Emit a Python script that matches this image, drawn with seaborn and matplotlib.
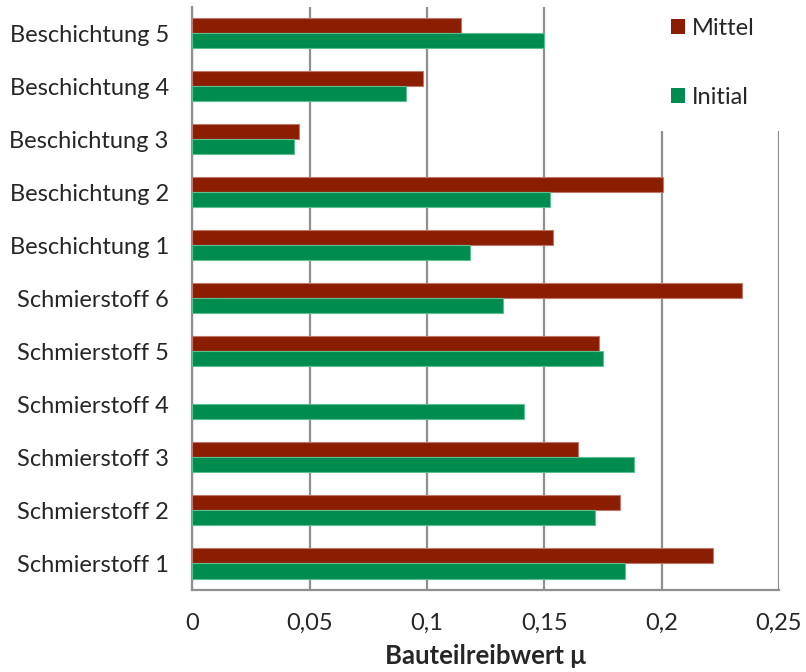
import numpy as np
import pandas as pd
import matplotlib
matplotlib.use("Agg")
import matplotlib.pyplot as plt
from matplotlib.patches import Rectangle
import seaborn as sns

# Reibwerte je Variante (oben nach unten)
categories = [
    "Beschichtung 5", "Beschichtung 4", "Beschichtung 3", "Beschichtung 2",
    "Beschichtung 1", "Schmierstoff 6", "Schmierstoff 5", "Schmierstoff 4",
    "Schmierstoff 3", "Schmierstoff 2", "Schmierstoff 1",
]
mittel = [0.1144, 0.0982, 0.0453, 0.2007, 0.1537, 0.2343, 0.1732, np.nan,
          0.1644, 0.1823, 0.2220]
initial = [0.150, 0.0911, 0.0432, 0.1526, 0.1182, 0.1326, 0.175, 0.1415,
           0.1882, 0.1716, 0.1843]
series = ["Mittel", "Initial"]
x_ticks = [0, 0.05, 0.1, 0.15, 0.2, 0.25]
x_tick_labels = ["0", "0,05", "0,1", "0,15", "0,2", "0,25"]
x_label = "Bauteilreibwert μ"

colors = {"Mittel": "#8b1e00", "Initial": "#008b4f"}
edges = {"Mittel": "#c0786a", "Initial": "#5cbf92"}

df = pd.DataFrame({
    "Variante": categories * 2,
    "Reihe": ["Mittel"] * len(categories) + ["Initial"] * len(categories),
    "Wert": mittel + initial,
})

sns.set_style("white")
plt.rcParams["font.family"] = ["Lato", "DejaVu Sans"]
fs = 17

fig = plt.figure(figsize=(8.06, 6.72), dpi=100)
ax = fig.add_axes([0.2387, 0.122, 0.7277, 0.8683])

sns.barplot(data=df, y="Variante", x="Wert", hue="Reihe", order=categories,
            hue_order=series, palette=colors, orient="h", width=0.566,
            gap=0, errorbar=None, ax=ax, zorder=3, saturation=1)

for cont, name in zip(ax.containers, series):
    for bar in cont:
        bar.set_edgecolor(edges[name])
        bar.set_linewidth(0.8)

grid_c = "#8f8f8f"
ax.set_xlim(0, 0.25)
ax.set_xticks(x_ticks)
ax.set_xticklabels(x_tick_labels, fontsize=fs)
ax.xaxis.grid(True, color=grid_c, linewidth=1.6, zorder=0)
ax.set_axisbelow(True)

ax.set_ylabel("")
ax.set_xlabel(x_label, fontsize=18.5, fontweight="bold", labelpad=7)
ax.tick_params(axis="y", which="major", length=0, pad=17, labelsize=fs)
ax.set_yticks(np.arange(-0.5, len(categories), 1.0), minor=True)
ax.tick_params(axis="y", which="minor", length=5.5, width=1.4, color=grid_c)
ax.tick_params(axis="x", which="major", length=5.5, width=1.4, color=grid_c, pad=11)

for side in ("top", "right"):
    ax.spines[side].set_visible(False)
for side in ("left", "bottom"):
    ax.spines[side].set_color(grid_c)
    ax.spines[side].set_linewidth(1.6)

# white legend area over the upper right of the plot
ax.add_patch(Rectangle((600 / 806, 1 - 131 / 672), 206 / 806, 131 / 672,
                       transform=fig.transFigure, facecolor="white",
                       edgecolor="none", clip_on=False, zorder=4))

handles, labels = ax.get_legend_handles_labels()
leg = ax.legend(handles, labels, loc="upper left",
                bbox_to_anchor=(659 / 806, 1 - 6 / 672),
                bbox_transform=fig.transFigure, frameon=False, fontsize=fs,
                labelspacing=2.05, handlelength=0.6, handleheight=0.6,
                handletextpad=0.3, borderpad=0.5, borderaxespad=0)
leg.set_zorder(5)
for h in leg.legend_handles:
    h.set_edgecolor("none")

fig.savefig("out.png", dpi=100, facecolor="white")
